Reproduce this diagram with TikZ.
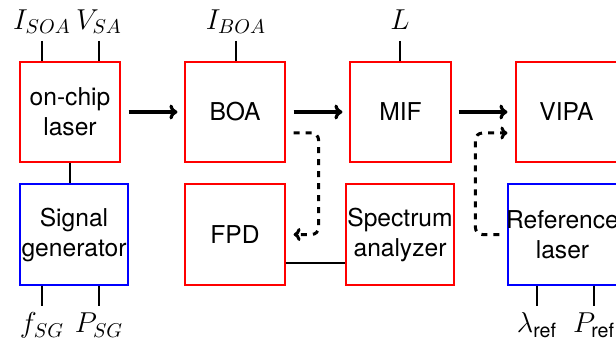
\documentclass[tikz,border=0pt]{standalone}
\usepackage{amsmath}
\usepackage{fontspec}
\setsansfont{TeX Gyre Heros}
\usetikzlibrary{arrows.meta}
\begin{document}
\begin{tikzpicture}[x=0.5pt,y=-0.5pt,
  box/.style={draw, line width=0.6pt, minimum width=50pt, minimum height=50pt,
    inner sep=0pt, align=center, font=\sffamily\fontsize{12.3}{15}\selectfont},
  rbox/.style={box, draw=red},
  bbox/.style={box, draw=blue},
  boxtext/.style={align=center, inner sep=0pt, font=\sffamily\fontsize{12.3}{15}\selectfont},
  param/.style={line width=1pt},
  flow/.style={line width=1.6pt, -{To[length=4pt,width=7.5pt]}},
  dflow/.style={line width=1.5pt, -{To[length=3.5pt,width=6.5pt]}, dashed, rounded corners=3.5pt},
  lab/.style={font=\fontsize{14}{16}\selectfont, inner sep=0pt, anchor=base},
]
\useasboundingbox (0,0) rectangle (616,342);
% boxes
\node[rbox] (laser) at (70,112) {on-chip\\laser};
\node[bbox, minimum width=54pt, minimum height=50.5pt] (sg) at (74,234.5) {Signal\\generator};
\node[rbox] (boa) at (235,112) {BOA};
\node[rbox, minimum height=50.5pt] (fpd) at (235,234.5) {FPD};
\node[rbox, minimum width=50.5pt] (mif) at (400.5,112) {MIF};
\node[rbox, minimum width=54pt, minimum height=50.5pt] (sa) at (400,234.5) {Spectrum\\analyzer};
\node[rbox, minimum width=50.5pt] (vipa) at (566.5,112) {VIPA};
\node[bbox, minimum width=54.5pt, minimum height=50.5pt] (ref) at (562.5,234.5) {};
\node[boxtext] (reftxt) at (ref) {Reference\\laser};
% parameter lines (top)
\coordinate (isoa) at (42,41);
\coordinate (vsa) at (99,41);
\coordinate (iboa) at (236,41);
\coordinate (lpar) at (400,41);
\draw[param] (isoa) -- (isoa |- laser.north);
\draw[param] (vsa) -- (vsa |- laser.north);
\draw[param] (iboa) -- (iboa |- boa.north);
\draw[param] (lpar) -- (lpar |- mif.north);
\node[lab] (lisoa) at ([yshift=5.85pt]isoa) {$I_{SOA}$};
\node[lab] (lvsa) at ([yshift=5.85pt]vsa) {$V_{SA}$};
\node[lab] (liboa) at ([yshift=5.85pt]iboa) {$I_{BOA}$};
\node[lab] (ll) at ([yshift=5.85pt]lpar) {$L$};
% parameter lines (bottom)
\coordinate (fsg) at (42,306);
\coordinate (psg) at (99,306);
\coordinate (lref) at (537,306);
\coordinate (pref) at (594,306);
\draw[param] (sg.south -| fsg) -- (fsg);
\draw[param] (sg.south -| psg) -- (psg);
\draw[param] (ref.south -| lref) -- (lref);
\draw[param] (ref.south -| pref) -- (pref);
\node[lab] (lfsg) at ([yshift=-13.35pt]fsg) {$f_{SG}$};
\node[lab] (lpsg) at ([yshift=-13.35pt]psg) {$P_{SG}$};
\node[lab] (llref) at ([yshift=-13.35pt]lref) {$\lambda_{\textsf{ref}}$};
\node[lab] (lpref) at ([yshift=-13.35pt]pref) {$P_{\textsf{ref}}$};
% connections
\draw[param] (laser.south) -- (laser.south |- sg.north);
\draw[param] ([yshift=-14.25pt]fpd.east) -- ([yshift=-14.25pt]fpd.east -| sa.west);
\draw[flow] ([xshift=4pt]laser.east) -- ([xshift=-3.5pt]boa.west);
\draw[flow] ([xshift=4pt]boa.east) -- ([xshift=-3.5pt]mif.west);
\draw[flow] ([xshift=3.5pt]mif.east) -- ([xshift=-4pt]vipa.west);
\draw[dflow] ([xshift=4pt,yshift=-10.5pt]boa.east) -- ++(12.5pt,0) |- ([xshift=4pt]fpd.east);
\draw[dflow] ([xshift=-4pt]ref.west) -- ++(-12pt,0) |- ([xshift=-4pt,yshift=-10.5pt]vipa.west);
\end{tikzpicture}
\end{document}
